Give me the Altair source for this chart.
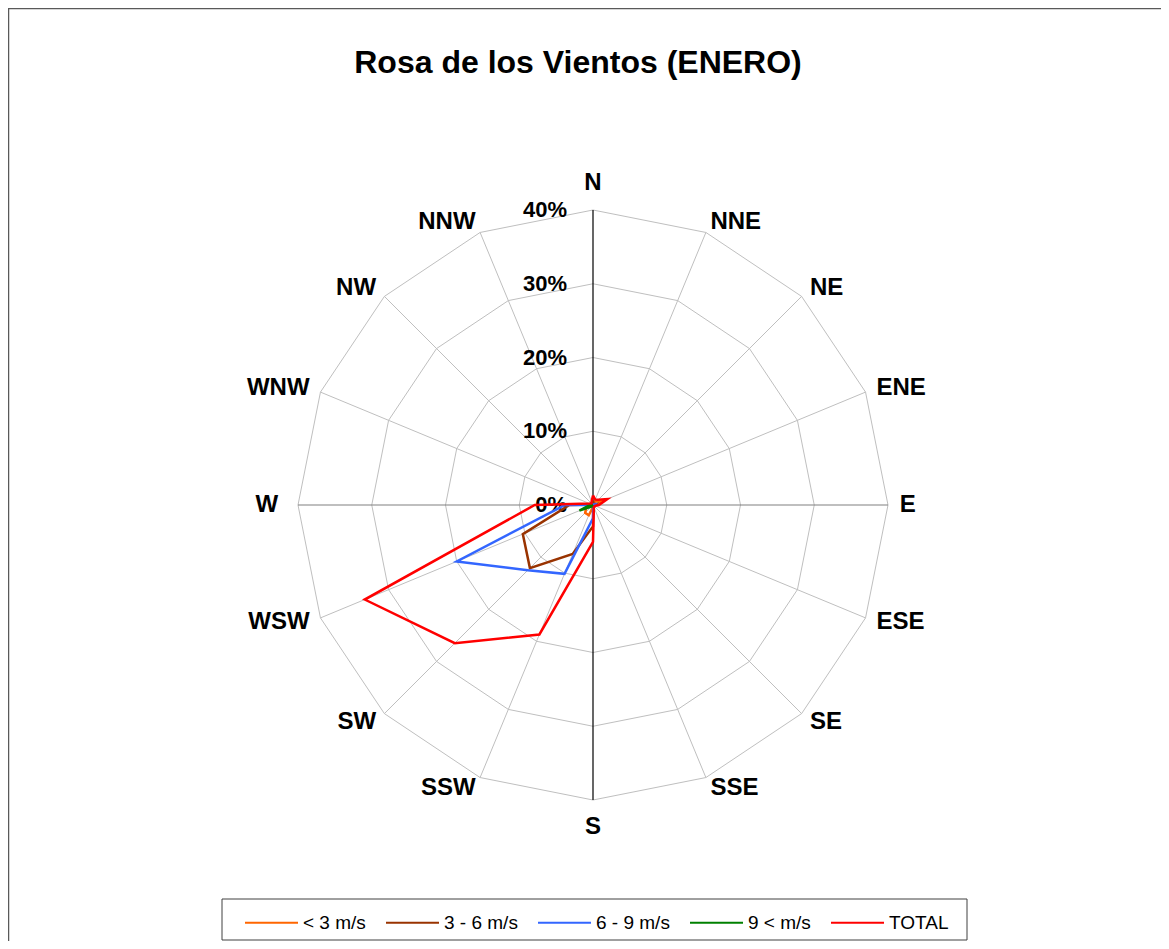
import altair as alt
import pandas as pd

# ---------------- data ----------------
directions = ["N", "NNE", "NE", "ENE", "E", "ESE", "SE", "SSE",
              "S", "SSW", "SW", "WSW", "W", "WNW", "NW", "NNW"]
series_names = ["< 3 m/s", "3 - 6 m/s", "6 - 9 m/s", "9 < m/s", "TOTAL"]
series_colors = ["#FF6600", "#993300", "#3366FF", "#008000", "#FF0000"]

lt3 = [0.5, 0.5, 0.7, 1.5, 0.5, 0.2, 0.2, 0.1, 0.3, 1.5, 1.5, 1.0, 0.5, 0.2, 0.2, 0.2]
v3_6 = [0.6, 0.2, 0.2, 0.4, 0.2, 0.1, 0.1, 0.1, 2.9, 7.2, 12.1, 10.3, 3.2, 0.2, 0.1, 0.2]
v6_9 = [0.2, 0.1, 0.1, 0.2, 0.1, 0.0, 0.0, 0.1, 1.8, 10.1, 12.5, 20.0, 3.8, 0.1, 0.0, 0.1]
gt9 = [0.0, 0.0, 0.0, 0.0, 0.0, 0.0, 0.0, 0.0, 0.0, 0.2, 0.3, 2.0, 0.4, 0.0, 0.0, 0.0]
total = [1.3, 0.8, 1.0, 2.1, 0.8, 0.3, 0.3, 0.3, 5.0, 19.0, 26.5, 33.5, 7.9, 0.5, 0.3, 0.5]

grid_levels = [10, 20, 30, 40]
tick_values = [0, 10, 20, 30, 40]
tick_labels = ["0%", "10%", "20%", "30%", "40%"]
title_text = "Rosa de los Vientos (ENERO)"

# ---------------- layout ----------------
PW, PH = 1153, 933
CX, CY = 585, 497
PX_PER = 7.375
xdom = [-CX / PX_PER, (PW - CX) / PX_PER]
ydom = [-(PH - CY) / PX_PER, CY / PX_PER]
XS = alt.Scale(domain=xdom, nice=False, zero=False)
YS = alt.Scale(domain=ydom, nice=False, zero=False)
FONT = "Liberation Sans"
N = len(directions)

# ---------------- tables ----------------
rows = []
for name, vals in zip(series_names, [lt3, v3_6, v6_9, gt9, total]):
    for k in range(N + 1):
        i = k % N
        rows.append({"serie": name, "k": k, "idx": i, "valor": vals[i]})
series_df = pd.DataFrame(rows)

grid_rows = []
for lv in grid_levels:
    for k in range(N + 1):
        grid_rows.append({"level": lv, "k": k, "idx": k % N})
grid_df = pd.DataFrame(grid_rows)

dir_df = pd.DataFrame({"dir": directions, "idx": list(range(N))})
tick_df = pd.DataFrame({"v": tick_values, "lab": tick_labels})
one_df = pd.DataFrame({"a": [0]})

ANG = "datum.idx * PI / 8"

# grid polygons
grid = alt.Chart(grid_df).transform_calculate(
    gx=f"datum.level * sin({ANG})", gy=f"datum.level * cos({ANG})"
).mark_line(color="#BFBFBF", strokeWidth=1).encode(
    x=alt.X("gx:Q", scale=XS, axis=None),
    y=alt.Y("gy:Q", scale=YS, axis=None),
    detail="level:N",
    order="k:Q",
)

spoke_base = alt.Chart(dir_df).transform_calculate(
    ex=f"40 * sin({ANG})", ey=f"40 * cos({ANG})", z="0"
)
def spoke_layer(filt, color, width):
    return spoke_base.transform_filter(filt).mark_rule(
        color=color, strokeWidth=width
    ).encode(
        x=alt.X("z:Q", scale=XS, axis=None), y=alt.Y("z:Q", scale=YS, axis=None),
        x2="ex:Q", y2="ey:Q",
    )
spokes = spoke_layer("datum.idx % 4 != 0", "#BFBFBF", 1)
we_axis = spoke_layer("datum.idx == 4 || datum.idx == 12", "#808080", 1.2)
ns_axis = spoke_layer("datum.idx == 0 || datum.idx == 8", "#000000", 1.2)

# radial labels
ticks = alt.Chart(tick_df).transform_calculate(z="0").mark_text(
    align="right", baseline="middle", dx=-26, font=FONT, fontSize=22,
    fontWeight="bold", color="black"
).encode(
    x=alt.X("z:Q", scale=XS, axis=None), y=alt.Y("v:Q", scale=YS, axis=None),
    text="lab:N",
)

# series
lines = alt.Chart(series_df).transform_calculate(
    px=f"datum.valor * sin({ANG})", py=f"datum.valor * cos({ANG})"
).mark_line(strokeWidth=2.5, strokeJoin="miter").encode(
    x=alt.X("px:Q", scale=XS, axis=None),
    y=alt.Y("py:Q", scale=YS, axis=None),
    color=alt.Color(
        "serie:N",
        scale=alt.Scale(domain=series_names, range=series_colors),
        legend=alt.Legend(
            orient="none", legendX=236, legendY=887, direction="horizontal",
            title=None, symbolType="stroke", symbolSize=2809,
            symbolStrokeWidth=2, labelFont=FONT, labelFontSize=19,
            labelColor="black", labelOffset=4, columnPadding=16,
            padding=0, labelLimit=0,
        ),
    ),
    strokeWidth=alt.condition(alt.datum.serie == "TOTAL", alt.value(3), alt.value(2.5)),
    order="k:Q",
)

# direction labels
lab_base = alt.Chart(dir_df).transform_calculate(
    lr="(datum.idx == 0 || datum.idx == 8) ? 43.7 : (datum.idx == 12 ? 42.7 : 41.6)"
).transform_calculate(
    lx=f"datum.lr * sin({ANG})", ly=f"datum.lr * cos({ANG})"
)
def dir_layer(filt, align):
    return lab_base.transform_filter(filt).mark_text(
        align=align, baseline="middle", font=FONT, fontSize=24,
        fontWeight="bold", color="black"
    ).encode(
        x=alt.X("lx:Q", scale=XS, axis=None),
        y=alt.Y("ly:Q", scale=YS, axis=None),
        text="dir:N",
    )
lab_c = dir_layer("datum.idx == 0 || datum.idx == 8", "center")
lab_l = dir_layer("datum.idx > 0 && datum.idx < 8", "left")
lab_r = dir_layer("datum.idx > 8", "right")

# title, legend box and frame
title = alt.Chart(one_df).mark_text(
    font=FONT, fontSize=32, fontWeight="bold", color="black",
    align="center", baseline="middle", text=title_text
).encode(x=alt.value(570), y=alt.value(55))

legend_box = alt.Chart(one_df).mark_rect(
    fill="white", stroke="#404040", strokeWidth=1
).encode(
    x=alt.value(214), x2=alt.value(959), y=alt.value(891), y2=alt.value(932)
)

frame_top = alt.Chart(one_df).mark_rule(color="#595959", strokeWidth=1.5).encode(
    x=alt.value(0), x2=alt.value(PW + 20), y=alt.value(0.5)
)
frame_left = alt.Chart(one_df).mark_rule(color="#595959", strokeWidth=1.5).encode(
    x=alt.value(0.5), y=alt.value(0), y2=alt.value(PH + 20)
)

chart = alt.layer(
    grid, spokes, we_axis, ns_axis, ticks, lines, lab_c, lab_l, lab_r,
    title, legend_box, frame_top, frame_left
).properties(
    width=PW, height=PH, padding=0,
    autosize=alt.AutoSizeParams(type="none"),
    background="white",
).configure_view(stroke=None)

chart.save("out.html", embed_options={"renderer": "svg", "actions": False})
